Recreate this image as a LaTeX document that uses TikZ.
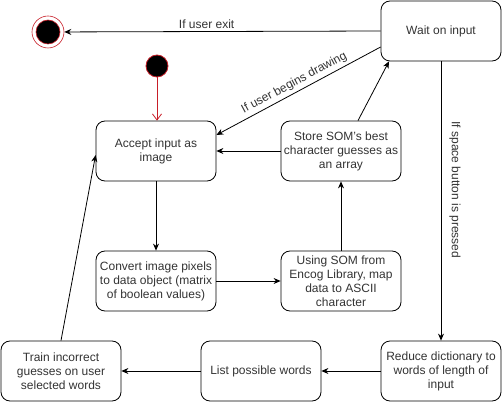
\documentclass[tikz,border=0pt]{standalone}
\usepackage{fontspec}
\setmainfont{Liberation Sans}
\usetikzlibrary{arrows.meta}
\definecolor{txtgray}{RGB}{51,51,51}
\definecolor{startred}{RGB}{200,30,40}

\begin{document}
\begin{tikzpicture}[x=1pt,y=-1pt,line width=0.8pt,font=\fontsize{12}{14}\selectfont,
  state/.style={draw,rounded corners=9pt,minimum width=120pt,minimum height=60pt,align=center,text=txtgray,inner sep=0pt},
  arr/.style={-{Stealth[length=7pt,width=6pt]}},
  lbl/.style={text=txtgray,inner sep=3pt}]

\useasboundingbox (0,0) rectangle (503,403);

\node[state] (wait) at (441,31) {Wait on input};
\node[state] (accept) at (156,151) {Accept input as\\image};
\node[state] (store) at (341,151) {Store SOM's best\\character guesses as\\an array};
\node[state] (convert) at (156,281) {Convert image pixels\\to data object (matrix\\of boolean values)};
\node[state] (using) at (341,281) {Using SOM from\\Encog Library, map\\data to ASCII\\character};
\node[state] (train) at (61,371) {Train incorrect\\guesses on user\\selected words};
\node[state] (list) at (261,371) {List possible words};
\node[state] (reduce) at (441,371) {Reduce dictionary to\\words of length of\\input};

\node[circle,draw=startred,fill=black,minimum size=22pt,inner sep=0pt] (start) at (157,66) {};
\node[circle,draw=startred,line width=0.6pt,minimum size=32pt,inner sep=0pt] (final) at (48,32) {};
\node[circle,draw=startred,fill=black,line width=0.6pt,minimum size=24pt,inner sep=0pt] (finalin) at (final) {};

\draw[startred,-{Straight Barb[length=6pt,width=9pt]}] (start) -- (start |- accept.north);

\draw[arr] (wait.west) -- node[lbl,above,pos=.55] {If user exit} (final);

\draw[arr] ([yshift=-16pt]wait.west) -- node[lbl,sloped,above,pos=.5] {If user begins drawing} ([yshift=16pt]accept.east);

\draw[arr] ([xshift=17pt]store.north) -- ([xshift=-52pt]wait.south);

\draw[arr] (store) -- (accept);

\draw[arr] (accept) -- (convert);

\draw[arr] (convert) -- (using);

\draw[arr] (using) -- (store);

\draw[arr] (wait) -- node[lbl,rotate=-90,anchor=south,pos=.46,inner sep=8pt] {If space button is pressed} (reduce);

\draw[arr] (reduce) -- (list);

\draw[arr] (list) -- (train);

\draw[arr] (train.north) -- ([yshift=-4pt]accept.west);

\end{tikzpicture}
\end{document}
